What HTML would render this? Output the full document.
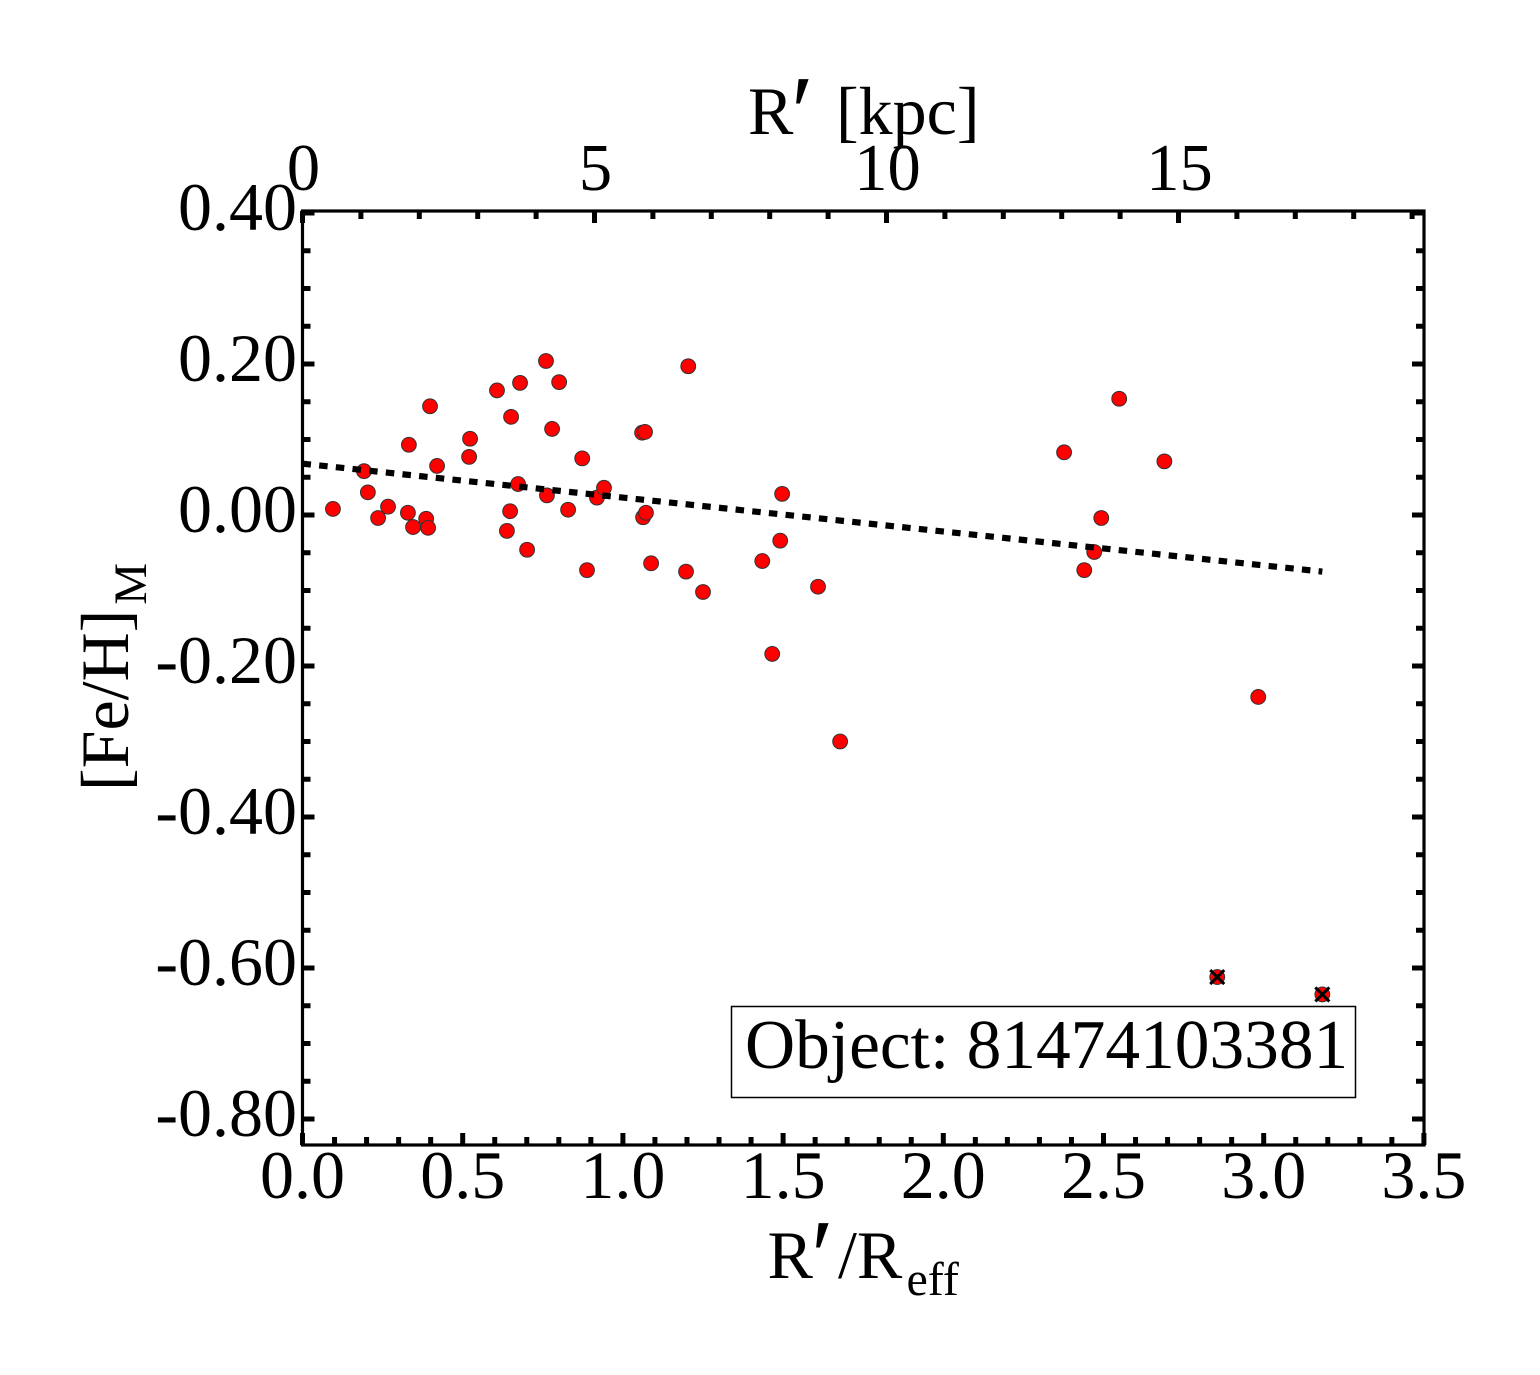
<!DOCTYPE html>
<html lang="en">
<head>
<meta charset="utf-8">
<title>[Fe/H] vs R'/Reff</title>
<style>
html,body{margin:0;padding:0;background:#fff;}
svg{display:block;}
text{font-family:"Liberation Serif","DejaVu Serif",serif;fill:#000;}
</style>
</head>
<body>
<svg id="chart" xmlns="http://www.w3.org/2000/svg" width="1540" height="1375" viewBox="0 0 1540 1375">
  <rect x="0" y="0" width="1540" height="1375" fill="#fff"/>
  <g id="ticks"></g>
  <rect x="302.5" y="211" width="1121.5" height="934" fill="none" stroke="#000" stroke-width="3.2"/>
  <g id="labels" font-size="68"></g>
  <g id="marks"></g>
  <line id="fit" stroke="#000" stroke-width="6.2" stroke-dasharray="8.5 8.25" fill="none"/>
  <g id="rejected"></g>
  <text y="134" font-size="68"><tspan x="748">R</tspan><tspan x="791" y="147" font-size="104">′</tspan><tspan x="836" y="134">[kpc]</tspan></text>
  <text y="1278" font-size="68"><tspan x="767.5">R</tspan><tspan x="811" y="1291" font-size="104">′</tspan><tspan x="838" y="1278">/R</tspan><tspan font-size="48" x="906.5" y="1295">eff</tspan></text>
  <text transform="translate(128,791) rotate(-90)" font-size="68">[Fe/H]<tspan font-size="47" dx="5" dy="18">M</tspan></text>
  <g>
    <rect x="731.5" y="1006.5" width="624" height="91" fill="#fff" stroke="#000" stroke-width="1.5"/>
    <text x="745" y="1068" font-size="69.4">Object: 81474103381</text>
  </g>
</svg>
<script>
const bottomTickLabels = ["0.0","0.5","1.0","1.5","2.0","2.5","3.0","3.5"];
const bottomTickValues = [0,0.5,1,1.5,2,2.5,3,3.5];
const topTickLabels = ["0","5","10","15"];
const topTickValues = [0,5,10,15];
const leftTickLabels = ["0.40","0.20","0.00","-0.20","-0.40","-0.60","-0.80"];
const leftTickValues = [0.4,0.2,0,-0.2,-0.4,-0.6,-0.8];
const radiusValues = [0.095,0.192,0.204,0.236,0.267,0.329,0.332,0.345,0.386,0.392,0.398,0.420,0.520,0.523,0.607,0.638,0.648,0.651,0.673,0.679,0.701,0.760,0.763,0.779,0.801,0.829,0.873,0.888,0.919,0.941,1.060,1.069,1.063,1.072,1.088,1.197,1.204,1.250,1.435,1.466,1.491,1.497,1.609,1.678,2.377,2.440,2.471,2.493,2.549,2.690,2.983];
const metallicityValues = [0.008,0.058,0.030,-0.004,0.011,0.003,0.093,-0.016,-0.005,-0.017,0.144,0.065,0.077,0.101,0.165,-0.021,0.005,0.130,0.041,0.175,-0.046,0.204,0.026,0.114,0.176,0.007,0.075,-0.073,0.023,0.036,0.109,0.110,-0.003,0.003,-0.064,-0.075,0.197,-0.102,-0.061,-0.184,-0.034,0.028,-0.095,-0.300,0.083,-0.073,-0.049,-0.004,0.154,0.071,-0.241];
const rejectedRadius = [2.855,3.183];
const rejectedMetallicity = [-0.612,-0.635];
const fitRadius = [0,3.183];
const fitMetallicity = [0.068,-0.075];

const NS = "http://www.w3.org/2000/svg";
function xScale(v){ return 302.5 + v * 320.4; }
function topScale(v){ return 302.5 + v * 58.4; }
function yScale(v){ return 515 - v * 755; }

const tickGroup = document.getElementById("ticks");
const labelGroup = document.getElementById("labels");
const markGroup = document.getElementById("marks");
const rejectedGroup = document.getElementById("rejected");

function addTick(x1,y1,x2,y2,width){
  const t = document.createElementNS(NS,"line");
  t.setAttribute("x1",x1); t.setAttribute("y1",y1);
  t.setAttribute("x2",x2); t.setAttribute("y2",y2);
  t.setAttribute("stroke","#000");
  t.setAttribute("stroke-width",width);
  
  
  tickGroup.appendChild(t);
}
function addLabel(str,x,y,anchor,size){
  const t = document.createElementNS(NS,"text");
  t.textContent = str;
  t.setAttribute("x",x); t.setAttribute("y",y);
  t.setAttribute("text-anchor",anchor);
  t.setAttribute("font-size",size);
  
  
  labelGroup.appendChild(t);
}

const TOP = 211, BOTTOM = 1145, LEFT = 302.5, RIGHT = 1424;

/* bottom axis ticks: every 0.1, major every 0.5 */
for(let i=0;i<=35;i++){
  const x = xScale(i/10);
  const len = i%5===0 ? 12 : 8;
  addTick(x,BOTTOM,x,BOTTOM-len,5);
}
/* top axis ticks: every 1 kpc, major every 5 */
for(let i=0;i<=19;i++){
  const x = topScale(i);
  const len = i%5===0 ? 12 : 8;
  addTick(x,TOP,x,TOP+len,5);
}
/* left and right ticks: every 0.05, major every 0.2 */
for(let i=-16;i<=8;i++){
  const y = yScale(i*0.05);
  const len = i%4===0 ? 12 : 8;
  addTick(LEFT,y,LEFT+len,y,5);
  addTick(RIGHT,y,RIGHT-len,y,5);
}

bottomTickValues.forEach((v,i)=>addLabel(bottomTickLabels[i],xScale(v),1198,"middle",68));
topTickValues.forEach((v,i)=>addLabel(topTickLabels[i],topScale(v)+1,190,"middle",66.5));
leftTickValues.forEach((v,i)=>addLabel(leftTickLabels[i],297,yScale(v)+17,"end",68));

radiusValues.forEach((r,i)=>{
  const c = document.createElementNS(NS,"circle");
  c.setAttribute("cx",xScale(r));
  c.setAttribute("cy",yScale(metallicityValues[i]));
  c.setAttribute("r",7.4);
  c.setAttribute("fill","#fe0000");
  c.setAttribute("stroke","#333");
  c.setAttribute("stroke-width",1);
  
  
  markGroup.appendChild(c);
});

rejectedRadius.forEach((r,i)=>{
  const cx = xScale(r), cy = yScale(rejectedMetallicity[i]);
  const c = document.createElementNS(NS,"circle");
  c.setAttribute("cx",cx); c.setAttribute("cy",cy); c.setAttribute("r",7.4);
  c.setAttribute("fill","#fe0000");
  c.setAttribute("stroke","#333");
  c.setAttribute("stroke-width",1);
  
  
  rejectedGroup.appendChild(c);
  const p = document.createElementNS(NS,"path");
  p.setAttribute("d",`M${cx-7} ${cy-7}L${cx+7} ${cy+7}M${cx-7} ${cy+7}L${cx+7} ${cy-7}`);
  p.setAttribute("stroke","#000");
  p.setAttribute("stroke-width",3);
  p.setAttribute("fill","none");
  
  
  rejectedGroup.appendChild(p);
});

const fit = document.getElementById("fit");
fit.setAttribute("x1",xScale(fitRadius[0]));
fit.setAttribute("y1",yScale(fitMetallicity[0]));
fit.setAttribute("x2",xScale(fitRadius[1]));
fit.setAttribute("y2",yScale(fitMetallicity[1]));
</script>
</body>
</html>
